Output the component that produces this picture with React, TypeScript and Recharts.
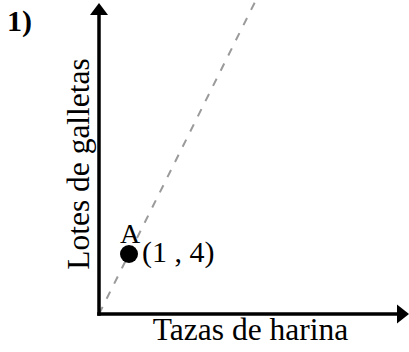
import { ComposedChart, XAxis, YAxis, Scatter, ReferenceLine, ReferenceDot, Label } from "recharts";

const xDomain = [0, 10];
const yDomain = [0, 20];
const points = [{ x: 1, y: 4 }];
const pointNames = ["A"];
const pointLabels = ["(1 , 4)"];
const guideX = [0, 5.2];
const guideY = [0, 20.8];
const xTitle = "Tazas de harina";
const yTitle = "Lotes de galletas";
const problemNumber = "1)";

const FONT = '"Liberation Serif", "Times New Roman", serif';

const guide = guideX.map((x, i) => ({ x, y: guideY[i] }));
const pointData = points.map((p, i) => ({ ...p, name: pointNames[i], label: pointLabels[i] }));

const PointShape = (props: any) => {
  const { cx, cy, payload } = props;
  return (
    <g>
      <circle cx={cx} cy={cy} r={9} fill="#000" />
      <text x={cx + 1} y={cy - 11} textAnchor="middle" fontFamily={FONT} fontSize={28} fill="#000">
        {payload.name}
      </text>
      <text x={cx + 13} y={cy + 8} fontFamily={FONT} fontSize={30} fill="#000">
        {payload.label}
      </text>
    </g>
  );
};

const ArrowUp = (props: any) => {
  const { cx, cy } = props;
  return <path d={`M${cx - 9},${cy + 1} L${cx},${cy - 11} L${cx + 9},${cy + 1} Z`} fill="#000" />;
};

const ArrowRight = (props: any) => {
  const { cx, cy } = props;
  return <path d={`M${cx - 2},${cy - 9.5} L${cx + 10},${cy} L${cx - 2},${cy + 9.5} Z`} fill="#000" />;
};

export default function App() {
  return (
    <div style={{ position: "absolute", left: 0, top: 0, width: 409, height: 352, background: "#fff" }}>
      <ComposedChart width={409} height={352} margin={{ top: 14, right: 10, bottom: 0, left: 0 }}>
        <XAxis
          type="number"
          dataKey="x"
          domain={xDomain}
          height={38}
          tick={false}
          tickLine={false}
          axisLine={{ stroke: "#000", strokeWidth: 3.5, strokeLinecap: "square" }}
        >
          <Label
            content={(p: any) => {
              const vb = p.viewBox;
              return (
                <text x={vb.x + 151.5} y={vb.y + 26} textAnchor="middle" fontFamily={FONT} fontSize={31.5} fill="#000">
                  {xTitle}
                </text>
              );
            }}
          />
        </XAxis>
        <YAxis
          type="number"
          dataKey="y"
          domain={yDomain}
          width={99}
          tick={false}
          tickLine={false}
          axisLine={{ stroke: "#000", strokeWidth: 3.5, strokeLinecap: "square" }}
        >
          <Label
            content={(p: any) => {
              const vb = p.viewBox;
              const x = 89;
              const y = vb.y + 150;
              return (
                <text
                  x={x}
                  y={y}
                  transform={`rotate(-90, ${x}, ${y})`}
                  textAnchor="middle"
                  fontFamily={FONT}
                  fontSize={31.5}
                  fill="#000"
                >
                  {yTitle}
                </text>
              );
            }}
          />
        </YAxis>
        <ReferenceLine
          segment={guide}
          stroke="#9a9a9a"
          strokeWidth={2}
          strokeDasharray="8 9"
          ifOverflow="visible"
        />
        <ReferenceDot x={xDomain[1]} y={0} ifOverflow="visible" shape={ArrowRight} />
        <ReferenceDot x={0} y={yDomain[1]} ifOverflow="visible" shape={ArrowUp} />
        <Scatter data={pointData} dataKey="y" shape={PointShape} isAnimationActive={false} />
      </ComposedChart>
      <div
        style={{
          position: "absolute",
          left: 7,
          top: 4,
          fontFamily: FONT,
          fontWeight: "bold",
          fontSize: 30,
          lineHeight: "34px",
        }}
      >
        {problemNumber}
      </div>
    </div>
  );
}
